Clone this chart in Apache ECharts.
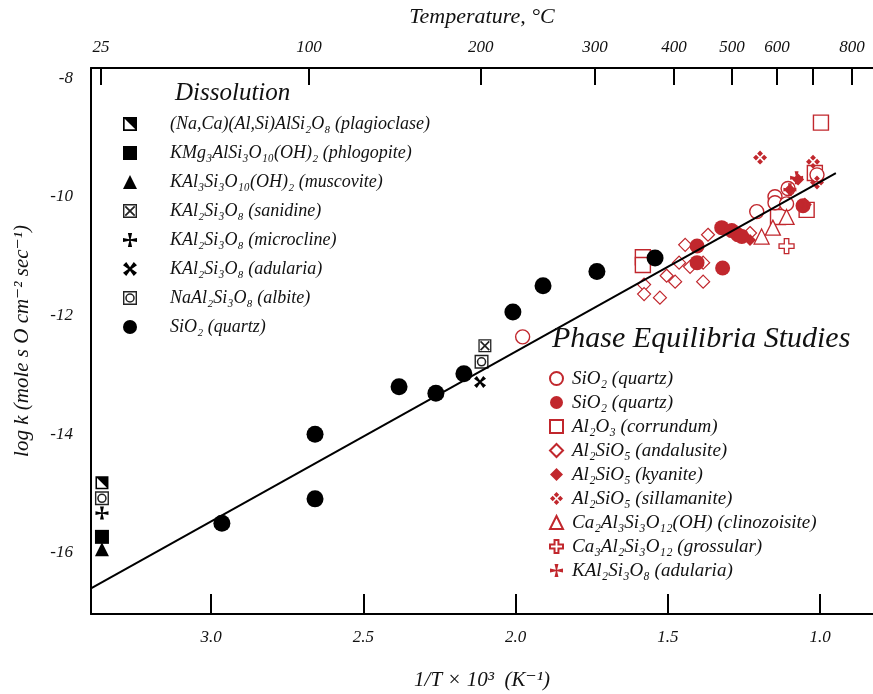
<!DOCTYPE html>
<html>
<head>
<meta charset="utf-8">
<script src="https://cdn.jsdelivr.net/npm/echarts@6/dist/echarts.min.js"></script>
<style>
body { margin: 0; background: #fff; }
#chart { width: 873px; height: 694px; }
</style>
</head>
<body>
<div id="chart"></div>
<script>
// axis ticks
const invTempTicks = [3.0, 2.5, 2.0, 1.5, 1.0];
const logKTicks = [-16, -14, -12, -10, -8];
const tempLabels = ['25', '100', '200', '300', '400', '500', '600', '', '800'];
const tempTickPos = [3.362, 2.679, 2.115, 1.739, 1.480, 1.289, 1.141, 1.023, 0.895];

// dissolution data [1000/T, log k]
const plagioclase = [[3.359, -14.82]];
const phlogopite = [[3.359, -15.73]];
const muscovite = [[3.359, -15.94]];
const sanidine = [[2.101, -12.51]];
const microcline = [[3.359, -15.33]];
const adularia = [[2.117, -13.12]];
const albite = [[3.359, -15.08], [2.112, -12.78]];
const quartzDiss = [[2.965, -15.50], [2.659, -15.09], [2.659, -14.00], [2.383, -13.20], [2.262, -13.31],
  [2.170, -12.98], [2.009, -11.94], [1.910, -11.50], [1.733, -11.26], [1.542, -11.03]];

// phase equilibria data
const quartzOpen = [[1.977, -12.36], [1.208, -10.25], [1.148, -10.00], [1.148, -10.10], [1.110, -10.12],
  [1.105, -9.86], [1.010, -9.63]];
const quartzFilled = [[1.404, -10.83], [1.404, -11.11], [1.320, -11.20], [1.323, -10.52], [1.290, -10.57],
  [1.270, -10.64], [1.257, -10.67], [1.056, -10.15]];
const corundum = [[0.997, -8.75], [1.582, -11.02], [1.582, -11.15], [1.017, -9.60], [1.044, -10.22], [1.138, -10.34]];
const andalusite = [[1.578, -11.48], [1.578, -11.64], [1.526, -11.70], [1.504, -11.33], [1.476, -11.43],
  [1.443, -10.81], [1.463, -11.11], [1.384, -11.43], [1.384, -11.11], [1.368, -10.64], [1.230, -10.61], [1.427, -11.18]];
const kyanite = [[1.230, -10.73], [1.099, -9.88], [1.072, -9.71]];
const sillimanite = [[1.197, -9.34], [1.023, -9.41], [1.010, -9.76], [1.050, -10.13]];
const clinozoisite = [[1.192, -10.67], [1.155, -10.52], [1.110, -10.34]];
const grossular = [[1.110, -10.83]];
const adulariaPE = [[1.077, -9.68], [1.099, -9.88]];

const fitLine = [[3.395, -16.6], [0.948, -9.6]];

const RED = '#c1272d';
const FONT = "'Liberation Serif', 'DejaVu Serif', serif";

const halfSquare = 'path://M0,0 L100,0 L100,100 L0,100 Z M12,12 L12,88 L88,88 L88,12 Z M12,12 L88,12 L88,88 Z';
const boxX = 'path://M0,0 L100,0 L100,100 L0,100 Z M10,10 L10,90 L90,90 L90,10 Z ' +
  'M12,21 L21,12 L88,79 L79,88 Z M79,12 L88,21 L21,88 L12,79 Z';
const boxO = 'path://M0,0 L100,0 L100,100 L0,100 Z M10,10 L10,90 L90,90 L90,10 Z ' +
  'M50,16 A34,34 0 1,1 49.9,16 Z M50,27 A23,23 0 1,0 50.1,27 Z';
const pattee = 'path://M35,0 L65,0 L55,45 L100,35 L100,65 L55,55 L65,100 L35,100 L45,55 L0,65 L0,35 L45,45 Z';
const heavyX = 'path://M74.7,4 L96,25.3 L61.3,50 L96,74.7 L74.7,96 L50,61.3 L25.3,96 L4,74.7 L38.7,50 L4,25.3 L25.3,4 L50,38.7 Z';
const fourDots = 'path://M50,2 L70,22 L50,42 L30,22 Z M78,30 L98,50 L78,70 L58,50 Z M50,58 L70,78 L50,98 L30,78 Z M22,30 L42,50 L22,70 L2,50 Z';
const openPlus = 'path://M35,0 L65,0 L65,35 L100,35 L100,65 L65,65 L65,100 L35,100 L35,65 L0,65 L0,35 L35,35 Z';

function sc(name, data, symbol, size, fill, stroke, bw) {
  return {
    type: 'scatter', name: name, data: data, symbol: symbol, symbolSize: size,
    itemStyle: { color: fill, borderColor: stroke, borderWidth: bw, opacity: 1 }
  };
}

const dissNames = ['(Na,Ca)(Al,Si)AlSi₂O₈ (plagioclase)', 'KMg₃AlSi₃O₁₀(OH)₂ (phlogopite)', 'KAl₃Si₃O₁₀(OH)₂ (muscovite)',
  'KAl₂Si₃O₈ (sanidine)', 'KAl₂Si₃O₈ (microcline)', 'KAl₂Si₃O₈ (adularia)', 'NaAl₂Si₃O₈ (albite)', 'SiO₂ (quartz)'];
const peNames = ['SiO₂ (quartz)\u200b', 'SiO₂ (quartz)\u200b\u200b', 'Al₂O₃ (corrundum)', 'Al₂SiO₅ (andalusite)',
  'Al₂SiO₅ (kyanite)', 'Al₂SiO₅ (sillamanite)', 'Ca₂Al₃Si₃O₁₂(OH) (clinozoisite)', 'Ca₃Al₂Si₃O₁₂ (grossular)',
  'KAl₂Si₃O₈ (adularia)\u200b'];

const series = [
  sc(peNames[3], andalusite, 'diamond', 13, '#fff', RED, 1.2),
  sc(peNames[2], corundum, 'rect', 15, '#fff', RED, 1.4),
  sc(peNames[0], quartzOpen, 'circle', 14, '#fff', RED, 1.4),
  sc(peNames[6], clinozoisite, 'triangle', 15, '#fff', RED, 1.3),
  sc(peNames[7], grossular, openPlus, 15, '#fff', RED, 1.3),
  sc(peNames[1], quartzFilled, 'circle', 15, RED, RED, 0),
  sc(peNames[4], kyanite, 'diamond', 12, RED, RED, 0),
  sc(peNames[5], sillimanite, fourDots, 14, RED, RED, 0),
  sc(peNames[8], adulariaPE, pattee, 13, RED, RED, 0),
  sc(dissNames[7], quartzDiss, 'circle', 17, '#000', '#000', 0),
  sc(dissNames[0], plagioclase, halfSquare, 13, '#000', '#000', 0),
  sc(dissNames[1], phlogopite, 'rect', 14, '#000', '#000', 0),
  sc(dissNames[2], muscovite, 'triangle', 14, '#000', '#000', 0),
  sc(dissNames[3], sanidine, boxX, 13, '#222', '#222', 0),
  sc(dissNames[4], microcline, pattee, 13, '#000', '#000', 0),
  sc(dissNames[5], adularia, heavyX, 12, '#000', '#000', 0),
  sc(dissNames[6], albite, boxO, 14, '#222', '#222', 0),
  {
    type: 'line', name: 'fit', data: fitLine, showSymbol: false, symbol: 'none', z: 5,
    lineStyle: { color: '#000', width: 2 }
  }
];

const labelFont = { fontFamily: FONT, fontStyle: 'italic', fontSize: 17, color: '#111' };
const legendText = { fontFamily: FONT, fontStyle: 'italic', fontSize: 18, color: '#111', lineHeight: 18 };

const chart = echarts.init(document.getElementById('chart'));
chart.setOption({
  animation: false,
  backgroundColor: '#fff',
  title: [
    { text: 'Dissolution', left: 175, top: 81, padding: 0,
      textStyle: { fontFamily: FONT, fontStyle: 'italic', fontWeight: 'normal', fontSize: 25, color: '#111' } },
    { text: 'Phase Equilibria Studies', left: 552, top: 324, padding: 0,
      textStyle: { fontFamily: FONT, fontStyle: 'italic', fontWeight: 'normal', fontSize: 30, color: '#111' } }
  ],
  legend: [
    {
      data: dissNames, orient: 'vertical', left: 123, top: 115, padding: 0,
      itemWidth: 14, itemHeight: 14, itemGap: 11, selectedMode: false,
      textStyle: Object.assign({ padding: [0, 0, 0, 28] }, legendText)
    },
    {
      data: peNames, orient: 'vertical', left: 549, top: 369, padding: 0,
      itemWidth: 13, itemHeight: 13, itemGap: 5, selectedMode: false,
      textStyle: Object.assign({ padding: [0, 0, 0, 4] }, legendText, { fontSize: 19 })
    }
  ],
  grid: { left: 91, right: 0, top: 68, bottom: 80, outerBoundsMode: 'none' },
  xAxis: [
    {
      type: 'value', inverse: true, min: 0.826, max: 3.395, position: 'bottom',
      name: '1/T × 10³  (K⁻¹)', nameLocation: 'middle', nameGap: 56,
      nameTextStyle: { fontFamily: FONT, fontStyle: 'italic', fontSize: 21, color: '#111' },
      axisLine: { lineStyle: { color: '#000', width: 2 } },
      axisTick: { inside: true, length: 20, customValues: invTempTicks, lineStyle: { color: '#000', width: 2 } },
      axisLabel: Object.assign({ customValues: invTempTicks, margin: 15, formatter: v => v.toFixed(1) }, labelFont),
      splitLine: { show: false }
    },
    {
      type: 'value', inverse: true, min: 0.826, max: 3.395, position: 'top',
      name: 'Temperature, °C', nameLocation: 'middle', nameGap: 40,
      nameTextStyle: { fontFamily: FONT, fontStyle: 'italic', fontSize: 22, color: '#111' },
      axisLine: { lineStyle: { color: '#000', width: 2 } },
      axisTick: { inside: true, length: 17, customValues: tempTickPos, lineStyle: { color: '#000', width: 2 } },
      axisLabel: Object.assign({
        customValues: tempTickPos, margin: 12,
        formatter: v => {
          const i = tempTickPos.findIndex(p => Math.abs(p - v) < 1e-6);
          return i >= 0 ? tempLabels[i] : '';
        }
      }, labelFont),
      splitLine: { show: false }
    }
  ],
  yAxis: {
    type: 'value', min: -17.03, max: -7.83,
    name: 'log k (mole s O cm⁻² sec⁻¹)', nameLocation: 'middle', nameGap: 58, nameRotate: 90,
    nameTextStyle: { fontFamily: FONT, fontStyle: 'italic', fontSize: 21, color: '#111' },
    axisLine: { show: true, lineStyle: { color: '#000', width: 2 } },
    axisTick: { show: false },
    axisLabel: Object.assign({ customValues: logKTicks, margin: 18 }, labelFont),
    splitLine: { show: false }
  },
  series: series
});
</script>
</body>
</html>
